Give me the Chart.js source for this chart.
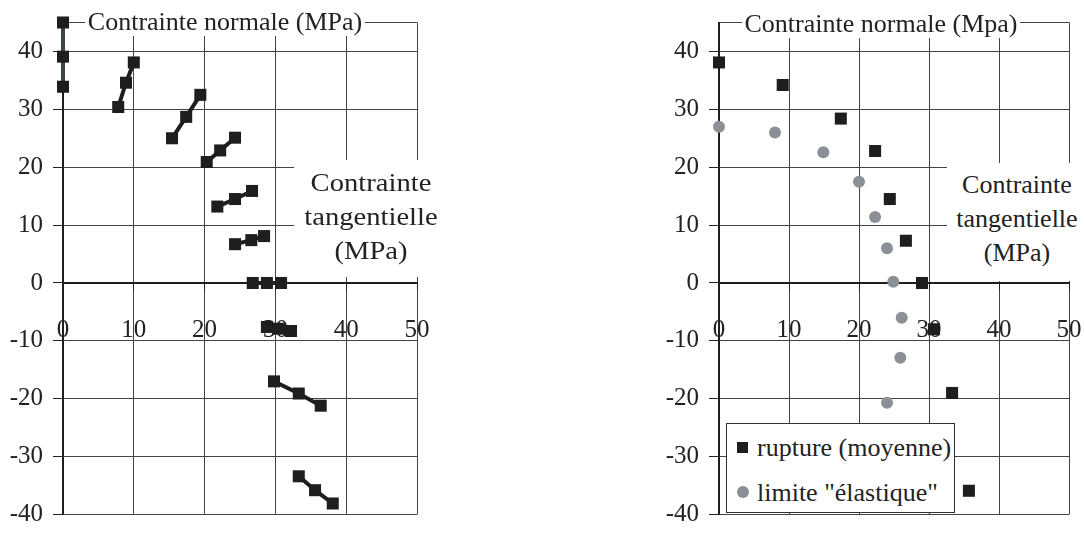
<!DOCTYPE html>
<html lang="fr">
<head>
<meta charset="utf-8">
<title>Contrainte normale / tangentielle</title>
<script src="https://cdn.jsdelivr.net/npm/chart.js@4/dist/chart.umd.min.js"></script>
<style>
  body { margin: 0; background: #fff; }
  #page {
    position: relative; width: 1084px; height: 537px; overflow: hidden;
    font-family: "Liberation Serif", "Times New Roman", serif; color: #222;
  }
  canvas { position: absolute; top: 0; }
  .titre {
    position: absolute; background: #fff; text-align: center; white-space: nowrap;
    font-size: 26px; line-height: 28px; height: 28px;
  }
  .cote {
    position: absolute; background: #fff; text-align: center; white-space: nowrap;
    font-size: 26px; line-height: 34px;
  }
  .cote span { display: block; }
  #coteG span { transform: scaleX(1.1); }
  .legende {
    position: absolute; left: 726px; top: 423px; width: 227px; height: 88px;
    border: 1px solid #333; background: #fff; font-size: 26px;
  }
  .legende .txt { position: absolute; left: 30px; line-height: 30px; white-space: nowrap; }
  .legende .carre { position: absolute; left: 10px; width: 11px; height: 11px; background: #1e1e1e; }
  .legende .rond { position: absolute; left: 10px; width: 12px; height: 12px; border-radius: 50%; background: #8a9096; }
</style>
</head>
<body>
<div id="page">
  <canvas id="grapheG" width="456" height="537" style="left:0"></canvas>
  <canvas id="grapheD" width="566" height="537" style="left:542px"></canvas>

  <div class="titre" style="left:85px; top:8px; width:280px;">Contrainte normale (MPa)</div>
  <div class="cote" id="coteG" style="left:294px; top:160px; width:154px; height:117px;">
    <div style="padding-top:6px"><span>Contrainte</span><span>tangentielle</span><span>(MPa)</span></div>
  </div>

  <div class="titre" style="left:742px; top:10px; width:278px;">Contrainte normale (Mpa)</div>
  <div class="cote" id="coteD" style="left:947px; top:163px; width:140px; height:118px;">
    <div style="padding-top:5px"><span>Contrainte</span><span>tangentielle</span><span>(MPa)</span></div>
  </div>

  <div class="legende">
    <span class="carre" style="top:18px"></span><span class="txt" style="top:9px">rupture (moyenne)</span>
    <span class="rond" style="top:62px"></span><span class="txt" style="top:54px">limite "élastique"</span>
  </div>
</div>

<script>
// ===== Données =====
const xTicks = [0, 10, 20, 30, 40, 50];
const yTicks = [-40, -30, -20, -10, 0, 10, 20, 30, 40];
const yMax = 45;

// graphe de gauche : une série par essai (3 points chacune)
const essaisX = [
  [0, 0, 0],
  [7.8, 8.9, 10.0],
  [15.4, 17.4, 19.4],
  [20.3, 22.2, 24.3],
  [21.8, 24.3, 26.7],
  [24.3, 26.6, 28.4],
  [26.8, 28.8, 30.8],
  [28.8, 30.5, 32.2],
  [29.8, 33.3, 36.4],
  [33.3, 35.6, 38.1]
];
const essaisY = [
  [45, 39.1, 33.9],
  [30.4, 34.6, 38.1],
  [25.0, 28.7, 32.5],
  [20.9, 22.9, 25.1],
  [13.2, 14.5, 15.9],
  [6.7, 7.4, 8.1],
  [0, 0, 0],
  [-7.6, -7.9, -8.3],
  [-17.0, -19.1, -21.2],
  [-33.4, -35.8, -38.1]
];

// graphe de droite
const ruptureX = [0, 9.1, 17.4, 22.3, 24.4, 26.7, 29.0, 30.7, 33.3, 35.7];
const ruptureY = [38.1, 34.2, 28.4, 22.8, 14.5, 7.3, 0, -8.0, -19.0, -35.9];
const elastiqueX = [0, 8.0, 14.9, 20.0, 22.3, 24.0, 24.9, 26.1, 25.9, 24.0];
const elastiqueY = [27.0, 26.0, 22.6, 17.5, 11.4, 6.0, 0.2, -6.0, -12.9, -20.7];

// ===== Utils =====
const police = { family: '"Liberation Serif", serif', size: 25 };
const NOIR = '#1e1e1e';

function points(xs, ys) {
  return xs.map((x, i) => ({ x, y: ys[i] }));
}

// ===== Chart =====
function creerGraphique(id, datasets, largeurAxeY, padding) {
  return new Chart(document.getElementById(id), {
    type: 'scatter',
    data: { datasets },
    options: {
      responsive: false,
      devicePixelRatio: 1,
      animation: false,
      events: [],
      layout: { padding },
      plugins: {
        legend: { display: false },
        tooltip: { enabled: false }
      },
      scales: {
        x: {
          type: 'linear',
          position: { y: 0 },
          min: xTicks[0],
          max: xTicks[xTicks.length - 1],
          afterFit: (s) => { s.height = 0; },
          afterBuildTicks: (s) => { s.ticks = xTicks.map(value => ({ value })); },
          ticks: { font: { ...police, lineHeight: 1.2 }, color: '#222', padding: 26, maxRotation: 0, autoSkip: false },
          grid: { color: '#444', lineWidth: 1, tickLength: 6, tickColor: '#222' },
          border: { color: NOIR, width: 2 }
        },
        y: {
          type: 'linear',
          min: yTicks[0],
          max: yMax,
          afterFit: (s) => { s.width = largeurAxeY; },
          afterBuildTicks: (s) => { s.ticks = yTicks.concat(yMax).map(value => ({ value })); },
          ticks: {
            font: { ...police, lineHeight: 1 },
            color: '#222',
            padding: 10,
            autoSkip: false,
            callback: (v) => (v === yMax ? '' : String(v))
          },
          grid: {
            color: '#444',
            lineWidth: 1,
            tickLength: 10,
            tickColor: (ctx) => (ctx.tick && ctx.tick.value === yMax ? 'rgba(0,0,0,0)' : '#222')
          },
          border: { color: NOIR, width: 2 }
        }
      }
    }
  });
}

// ===== Main =====
const seriesGauche = essaisX.map((xs, i) => ({
  data: points(xs, essaisY[i]),
  showLine: true,
  clip: false,
  borderColor: i === 0 ? '#3a4649' : NOIR,
  borderWidth: 4,
  pointStyle: 'rect',
  pointRadius: 8.5,
  pointBackgroundColor: NOIR,
  pointBorderWidth: 0
}));

const seriesDroite = [
  {
    label: 'rupture (moyenne)',
    data: points(ruptureX, ruptureY),
    clip: false,
    pointStyle: 'rect',
    pointRadius: 8.5,
    pointBackgroundColor: NOIR,
    pointBorderWidth: 0
  },
  {
    label: 'limite "élastique"',
    data: points(elastiqueX, elastiqueY),
    clip: false,
    pointStyle: 'circle',
    pointRadius: 6,
    pointBackgroundColor: '#8a9096',
    pointBorderWidth: 0
  }
];

// le bord droit du graphe doit laisser la place au libellé "50" (padding des ticks compris)
creerGraphique('grapheG', seriesGauche, 63, { left: 0, top: 20, right: 39, bottom: 13 });
creerGraphique('grapheD', seriesDroite, 177, { left: 0, top: 22, right: 39, bottom: 15 });
</script>
</body>
</html>
